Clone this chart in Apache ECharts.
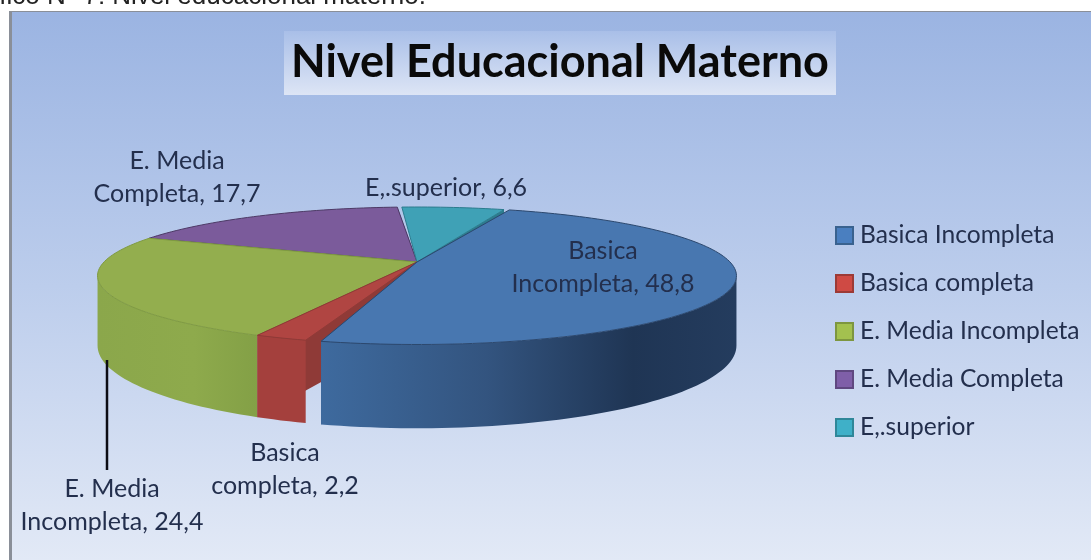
<!DOCTYPE html>
<html><head><meta charset="utf-8">
<style>html,body{margin:0;padding:0;background:#fff}#c{width:1091px;height:560px}</style>
<script src="https://cdn.jsdelivr.net/npm/echarts@6/dist/echarts.min.js"></script>
</head><body><div id="c"></div>
<script>
const categories = ['Basica Incompleta','Basica completa','E. Media Incompleta','E. Media Completa','E,.superior'];
const values = [48.8, 2.2, 24.4, 17.7, 6.6];
const labelHeads = ['Basica','Basica','E. Media','E. Media',''];
const labelTails = ['Incompleta','completa','Incompleta','Completa','E,.superior'];

const topColors = ['#4877b0','#b04542','#93ae4e','#7b5b9b','#3fa1b6'];
const wallColors = ['#2c486e','#8f3a37','#7f9a42','#4d3a66','#2c7c8e'];
const legendColors = ['#4a7fc0','#cf4a44','#a3c14f','#7f5fa8','#3fb0c8'];
const legendBorders = ['#39628f','#9c3a36','#7d9640','#5f4880','#2f8799'];
const labelAnchors = [[603,267],[285,469],[112,505],[177,177],[446,188]];
const drawOrder = [3,4,2,1,0];
const gapEnd = [2.4,0,0,1,1.2];

const hub = [417,262], R = 313, K = 66, D = 5, H = 67, START = 20.5;
const SIL = Math.acos(-1/D)*180/Math.PI;
function proj(deg, z) {
  const t = deg*Math.PI/180, s = D/(D+Math.cos(t));
  return [hub[0]+R*Math.sin(t)*s, hub[1]-K*Math.cos(t)*s+z*s];
}
function arc(a, b, z) {
  const n = Math.max(2, Math.ceil((b-a)/1.5)), out = [];
  for (let i=0;i<=n;i++) out.push(proj(a+(b-a)*i/n, z));
  return out;
}
const total = values.reduce((a,b)=>a+b,0);
function angles(i) {
  let sum = 0;
  for (let j=0;j<i;j++) sum += values[j];
  const a = START+sum/total*360, b = START+(sum+values[i])/total*360;
  return [a, b-gapEnd[i]];
}
function sideFill(i) {
  if (i===0) return new echarts.graphic.LinearGradient(0,0,1,0,[
    {offset:0,color:'#3e6a9e'},{offset:0.4,color:'#33547f'},{offset:0.75,color:'#1f3554'},{offset:1,color:'#243c5e'}]);
  if (i===1) return '#a4403d';
  if (i===2) return new echarts.graphic.LinearGradient(0,0,1,0,[
    {offset:0,color:'#8ba74b'},{offset:0.6,color:'#8eaa4c'},{offset:1,color:'#83a046'}]);
  return wallColors[i];
}
function makeRender(i) {
  return function() {
    const [a,b] = angles(i), children = [];
    const hubTop = [hub[0],hub[1]], hubBot = [hub[0],hub[1]+H];
    children.push({type:'polygon',shape:{points:[proj(b,0),hubTop,hubBot,proj(b,H)]},
      style:{fill:wallColors[i]}});
    const sa = Math.max(a,SIL), sb = Math.min(b,360-SIL);
    if (sb>sa) {
      const pts = arc(sa,sb,0).concat(arc(sa,sb,H).reverse());
      children.push({type:'polygon',shape:{points:pts},style:{fill:sideFill(i)}});
    }
    children.push({type:'polygon',shape:{points:[hubTop].concat(arc(a,b,0))},
      style:{fill:topColors[i],stroke:wallColors[i],lineWidth:1}});
    const txt = (labelHeads[i]?labelHeads[i]+'\n':'')+labelTails[i]+', '+String(values[i]).replace('.',',');
    children.push({type:'text',z2:50,style:{text:txt,x:labelAnchors[i][0],y:labelAnchors[i][1],
      align:'center',verticalAlign:'middle',fontFamily:'Lato',fontSize:25,lineHeight:33,fill:'#232f4d'}});
    return {type:'group',children};
  };
}
const chart = echarts.init(document.getElementById('c'),null,{renderer:'canvas'});
chart.setOption({
  animation:false,
  backgroundColor:'#ffffff',
  graphic:[
    {type:'rect',z:-10,shape:{x:9,y:11,width:1082,height:549},style:{fill:'#8a8f98'}},
    {type:'rect',z:-9,shape:{x:12,y:12,width:1079,height:548},style:{fill:new echarts.graphic.LinearGradient(0,0,0,1,[
      {offset:0,color:'#9bb4e2'},{offset:0.5,color:'#bccdec'},{offset:1,color:'#e2e9f6'}])}},
    {type:'rect',z:-8,shape:{x:284,y:31,width:552,height:64},style:{fill:new echarts.graphic.LinearGradient(0,0,0,1,[
      {offset:0,color:'#a9bfe8'},{offset:1,color:'#dde5f5'}])}},
    {type:'text',z:5,style:{text:'Nivel Educacional Materno',x:560,y:62,align:'center',verticalAlign:'middle',
      fontFamily:'Lato',fontWeight:'bold',fontSize:45,fill:'#0a0a0a'}},
    {type:'text',z:5,style:{text:'Gráfico N° 7: Nivel educacional materno.',x:-44,y:-3,align:'left',verticalAlign:'middle',
      fontFamily:'Liberation Sans',fontSize:26,fill:'#222222'}},
    {type:'line',z:5,shape:{x1:107,y1:360,x2:107,y2:470},style:{stroke:'#0c0c14',lineWidth:2.5}}
  ],
  legend:{
    orient:'vertical',left:830,top:218,itemWidth:17,itemHeight:17,itemGap:23,icon:'rect',
    data:categories,selectedMode:false,
    textStyle:{fontFamily:'Lato',fontSize:24.6,color:'#232f4d',padding:[0,0,0,2]}
  },
  series:drawOrder.map(i=>({
    type:'custom',name:categories[i],coordinateSystem:'none',
    itemStyle:{color:legendColors[i],borderColor:legendBorders[i],borderWidth:2},
    renderItem:makeRender(i),data:[values[i]],silent:true,z:2
  }))
});
</script></body></html>
